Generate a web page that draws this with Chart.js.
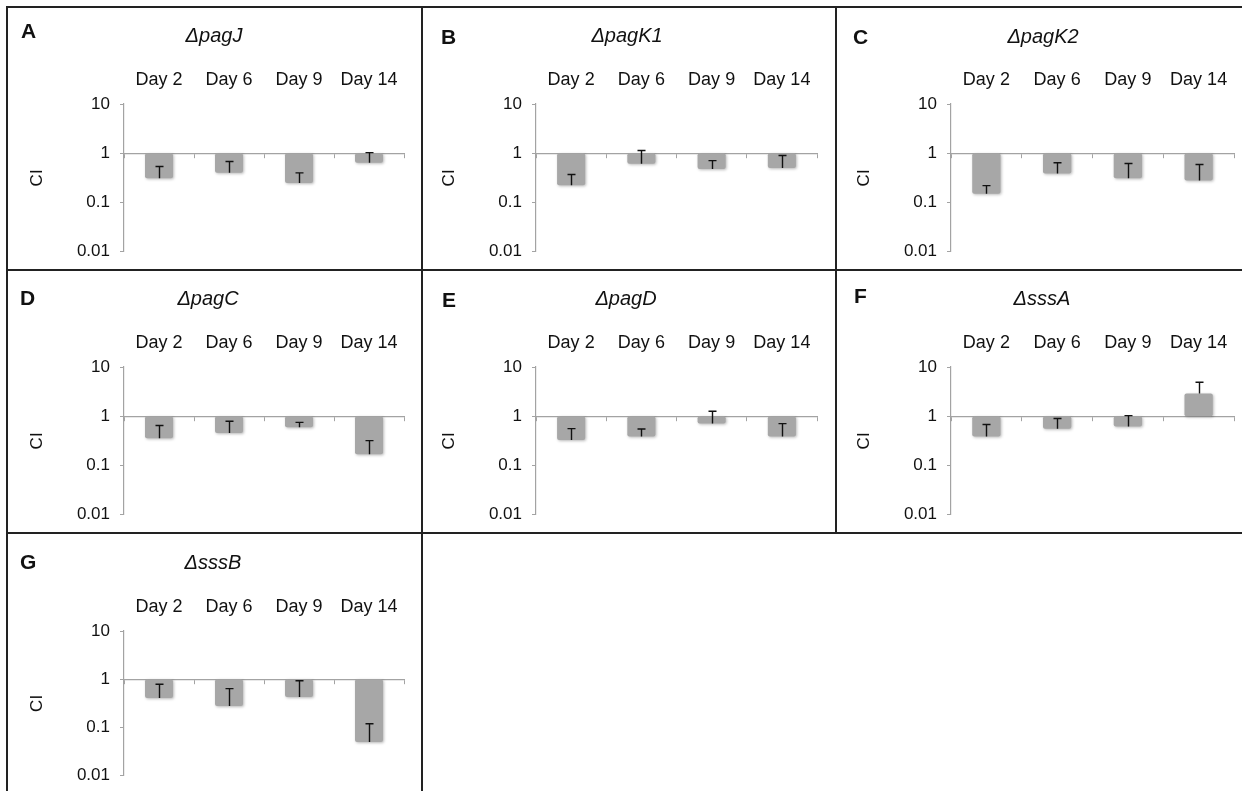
<!DOCTYPE html>
<html>
<head>
<meta charset="utf-8">
<script src="https://cdn.jsdelivr.net/npm/chart.js@4.4.1/dist/chart.umd.min.js"></script>
<style>
  html, body { margin: 0; padding: 0; background: #fff; }
  #fig { position: relative; width: 1242px; height: 791px; overflow: hidden; background: #fff;
         font-family: "Liberation Sans", Arial, sans-serif; }
  #fig canvas { position: absolute; }
  .rule { position: absolute; background: #222; z-index: 5; }
  .letter { position: absolute; font-weight: bold; font-size: 21px; line-height: 21px; color: #111; white-space: nowrap; }
  .gene { position: absolute; font-style: italic; font-size: 20px; line-height: 20px; color: #111; white-space: nowrap;
          transform: translateX(-50%); }
</style>
</head>
<body>
<div id="fig"></div>
<script>
// ---- data ----
const days = ['Day 2', 'Day 6', 'Day 9', 'Day 14'];
const yTickValues = [0.01, 0.1, 1, 10];
const yTickLabels = ['0.01', '0.1', '1', '10'];

const panelLetters = ['A', 'B', 'C', 'D', 'E', 'F', 'G'];
const geneNames = ['\u0394pagJ', '\u0394pagK1', '\u0394pagK2', '\u0394pagC', '\u0394pagD', '\u0394sssA', '\u0394sssB'];

// competitive index per day, and the upper end of each error bar
const ciPagJ  = [0.31, 0.40, 0.25, 0.64];
const topPagJ = [0.54, 0.68, 0.40, 1.03];
const ciPagK1  = [0.224, 0.61, 0.48, 0.50];
const topPagK1 = [0.37, 1.14, 0.71, 0.90];
const ciPagK2  = [0.15, 0.39, 0.31, 0.28];
const topPagK2 = [0.22, 0.64, 0.62, 0.59];
const ciPagC  = [0.36, 0.46, 0.60, 0.17];
const topPagC = [0.65, 0.79, 0.75, 0.32];
const ciPagD  = [0.33, 0.39, 0.71, 0.39];
const topPagD = [0.56, 0.55, 1.26, 0.71];
const ciSssA  = [0.39, 0.56, 0.62, 2.9];
const topSssA = [0.68, 0.90, 1.03, 4.9];
const ciSssB  = [0.41, 0.28, 0.43, 0.05];
const topSssB = [0.79, 0.64, 0.93, 0.12];

const seriesValues = [ciPagJ, ciPagK1, ciPagK2, ciPagC, ciPagD, ciSssA, ciSssB];
const seriesTops   = [topPagJ, topPagK1, topPagK2, topPagC, topPagD, topSssA, topSssB];

// ---- layout (page pixels) ----
const plotBoxes = [
  { x: 124, y: 104, w: 280, h: 147 },
  { x: 536, y: 104, w: 281, h: 147 },
  { x: 951, y: 104, w: 283, h: 147 },
  { x: 124, y: 367, w: 280, h: 147 },
  { x: 536, y: 367, w: 281, h: 147 },
  { x: 951, y: 367, w: 283, h: 147 },
  { x: 124, y: 631, w: 280, h: 144 }
];
const letterPos = [[21, 38], [441, 44], [853, 44], [20, 305], [442, 307], [854, 303], [20, 569]];
const genePos   = [[214, 42], [627, 42], [1043, 43], [208, 305], [626, 305], [1042, 305], [213, 569]];

const rules = [
  [6, 6, 1236, 2], [6, 6, 2, 785], [421, 6, 2, 785], [835, 6, 2, 528],
  [6, 269, 1236, 2], [6, 532, 1236, 2]
];

const FONT = '"Liberation Sans", Arial, sans-serif';
const AXIS_GREY = '#a3a3a3';
const LEFT_OFF = 117, TOP_OFF = 97, TOP_AXIS_H = 40, Y_AXIS_W = 97;
const BOTTOM_PAD = 14, BOTTOM_EXTRA = 7;

const fig = document.getElementById('fig');

rules.forEach(([l, t, w, h]) => {
  const d = document.createElement('div');
  d.className = 'rule';
  Object.assign(d.style, { left: l + 'px', top: t + 'px', width: w + 'px', height: h + 'px' });
  fig.appendChild(d);
});

// soft shadow under the bars, then plus-direction error bars on top
const errorBarPlugin = {
  id: 'errorBars',
  beforeDatasetsDraw(chart) {
    const ctx = chart.ctx;
    ctx.save();
    ctx.shadowColor = 'rgba(0,0,0,0.28)';
    ctx.shadowBlur = 3;
    ctx.shadowOffsetX = 1;
    ctx.shadowOffsetY = 1;
  },
  afterDatasetsDraw(chart, args, opts) {
    const ctx = chart.ctx;
    ctx.restore();
    const yScale = chart.scales.y;
    const meta = chart.getDatasetMeta(0);
    const vals = opts.values, tops = opts.tops;
    ctx.save();
    ctx.strokeStyle = '#111';
    ctx.lineWidth = 1.4;
    meta.data.forEach((bar, i) => {
      const x = Math.round(bar.x) + 0.5;
      const y0 = yScale.getPixelForValue(vals[i]);
      const y1 = yScale.getPixelForValue(tops[i]);
      ctx.beginPath();
      ctx.moveTo(x, y0);
      ctx.lineTo(x, y1);
      ctx.moveTo(x - 4, y1);
      ctx.lineTo(x + 4, y1);
      ctx.stroke();
    });
    ctx.restore();
  }
};

plotBoxes.forEach((box, p) => {
  const W = LEFT_OFF + box.w + 12;
  const H = TOP_OFF + box.h + BOTTOM_PAD + BOTTOM_EXTRA;
  const cv = document.createElement('canvas');
  cv.width = W; cv.height = H;
  Object.assign(cv.style, { left: (box.x - LEFT_OFF) + 'px', top: (box.y - TOP_OFF) + 'px', width: W + 'px', height: H + 'px' });
  fig.appendChild(cv);

  const letter = document.createElement('div');
  letter.className = 'letter';
  letter.textContent = panelLetters[p];
  letter.style.left = letterPos[p][0] + 'px';
  letter.style.top = (letterPos[p][1] - 17.8) + 'px';
  fig.appendChild(letter);

  const gene = document.createElement('div');
  gene.className = 'gene';
  gene.textContent = geneNames[p];
  gene.style.left = genePos[p][0] + 'px';
  gene.style.top = (genePos[p][1] - 16.9) + 'px';
  fig.appendChild(gene);

  const values = seriesValues[p];
  new Chart(cv, {
    type: 'bar',
    data: {
      labels: days,
      datasets: [{
        data: values.map(v => [1, v]),
        backgroundColor: '#a7a7a7',
        borderWidth: 0,
        borderRadius: 2,
        borderSkipped: false,
        categoryPercentage: 1,
        barPercentage: 0.4
      }]
    },
    options: {
      responsive: false,
      animation: false,
      devicePixelRatio: 1,
      layout: { padding: { left: LEFT_OFF - Y_AXIS_W, top: TOP_OFF - TOP_AXIS_H, right: 12, bottom: BOTTOM_PAD } },
      plugins: {
        legend: { display: false },
        tooltip: { enabled: false },
        errorBars: { values: values, tops: seriesTops[p] }
      },
      scales: {
        x: {
          position: 'top',
          grid: { display: false, drawTicks: false },
          border: { display: false },
          ticks: { color: '#111', font: { family: FONT, size: 18 }, padding: 13, maxRotation: 0, autoSkip: false },
          afterFit(s) { s.height = TOP_AXIS_H; }
        },
        xLine: {
          axis: 'x',
          type: 'category',
          labels: days,
          position: { y: 1 },
          offset: true,
          z: 1,
          grid: { offset: true, drawOnChartArea: false, tickLength: 4, color: AXIS_GREY, lineWidth: 1 },
          border: { display: true, color: AXIS_GREY, width: 1.2 },
          ticks: { display: false }
        },
        y: {
          type: 'logarithmic',
          position: 'left',
          min: 0.01,
          max: 10,
          afterBuildTicks(s) { s.ticks = yTickValues.map(v => ({ value: v })); },
          ticks: {
            color: '#111',
            font: { family: FONT, size: 17 },
            padding: 10,
            callback: (v, i) => yTickLabels[i]
          },
          grid: { drawOnChartArea: false, tickLength: 4, color: AXIS_GREY, lineWidth: 1 },
          border: { display: true, color: AXIS_GREY, width: 1.2 },
          title: { display: true, text: 'CI', color: '#111', padding: 0, font: { family: FONT, size: 17 } },
          afterFit(s) { s.width = Y_AXIS_W; }
        }
      }
    },
    plugins: [errorBarPlugin]
  });
});
</script>
</body>
</html>
